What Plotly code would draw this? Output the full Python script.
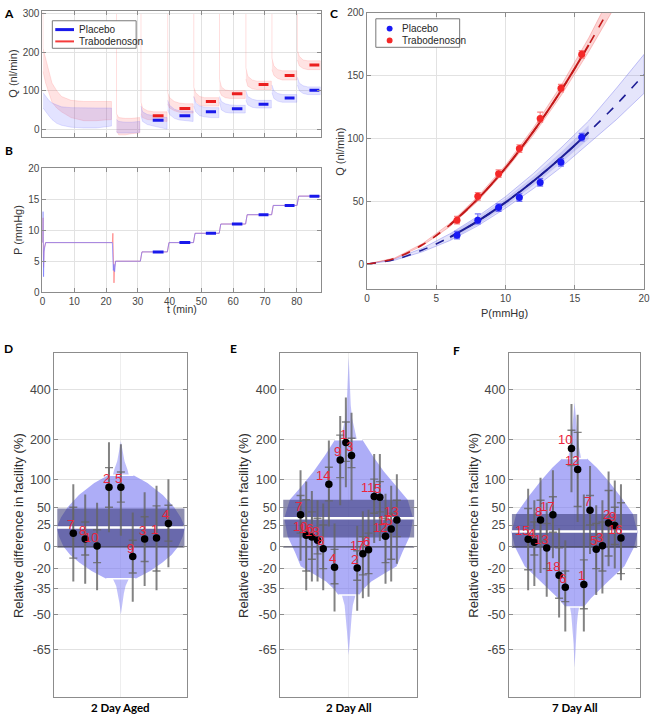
import math
import plotly.graph_objects as go

W, H = 657, 722
FONT = "Liberation Sans, Arial, sans-serif"
BOLD_FONT = "Lato, Liberation Sans, sans-serif"
TICK_COLOR = "rgb(70,70,70)"
AXIS_LINE = "rgb(140,140,140)"
GRID = "rgb(226,226,226)"

# ---------------- data: panels A, B, C ----------------
P_levels = [6.5, 8, 9.5, 11, 12.5, 14, 15.5]
Q_placebo = [23, 35, 45, 53, 65, 81, 101]
Q_trab = [35, 54, 72, 92, 116, 140, 167]
Q_placebo_eplus = [3, 5, 3, 3, 3, 3, 3]
Q_placebo_eminus = [3, 3, 3, 3, 3, 3, 3]
Q_trab_eplus = [3, 3, 3, 3, 5, 3, 3]
Q_trab_eminus = [3, 3, 3, 3, 3, 3, 3]
avg_t_start = [34.7, 43.1, 51.4, 59.6, 68.0, 76.2, 84.0]
avg_t_end = [38.1, 46.5, 54.6, 62.9, 71.1, 79.3, 87.1]

# A: envelopes of the raw flow traces, one list per pressure step
A_seg_t = [
    [0.2, 1, 2, 3, 4.5, 6, 9, 13, 17, 21.7],
    [23.3, 24, 26, 28, 30.6],
    [31.0, 31.5, 33, 35, 37, 39.2],
    [39.4, 40.0, 41.5, 43, 45, 47.4],
    [47.6, 48.2, 49.5, 51, 53, 55.5],
    [55.7, 56.3, 57.5, 59, 61, 63.8],
    [64.0, 64.6, 66, 67.5, 69.5, 72.0],
    [72.2, 72.8, 74, 75.5, 77.5, 80.0],
    [80.2, 80.8, 82, 83.5, 85.5, 87.5],
]
A_red_hi = [
    [210, 185, 150, 120, 100, 85, 75, 72, 72, 72],
    [40, 30, 28, 28, 30],
    [70, 55, 48, 45, 45, 45],
    [95, 82, 72, 68, 66, 66],
    [110, 95, 85, 82, 82, 82],
    [130, 110, 102, 100, 100, 100],
    [160, 138, 128, 125, 125, 125],
    [185, 165, 155, 152, 152, 152],
    [205, 190, 180, 178, 178, 178],
]
A_red_lo = [
    [150, 120, 95, 70, 55, 45, 30, 22, 22, 25],
    [-5, -15, -15, -12, -10],
    [40, 30, 25, 22, 22, 20],
    [65, 55, 48, 44, 42, 42],
    [85, 72, 62, 60, 60, 60],
    [100, 88, 82, 80, 80, 80],
    [130, 112, 105, 103, 103, 103],
    [155, 140, 132, 128, 128, 128],
    [180, 165, 158, 155, 155, 155],
]
A_blue_hi = [
    [95, 85, 75, 68, 62, 58, 56, 55, 55, 55],
    [25, 20, 18, 18, 20],
    [60, 45, 38, 35, 33, 30],
    [75, 62, 52, 48, 47, 47],
    [85, 68, 60, 57, 56, 56],
    [85, 72, 66, 63, 62, 62],
    [100, 85, 78, 75, 75, 75],
    [115, 100, 93, 90, 90, 90],
    [135, 120, 113, 110, 110, 110],
]
A_blue_lo = [
    [55, 45, 35, 25, 15, 10, 5, 3, 3, 8],
    [-8, -10, -10, -10, -8],
    [35, 20, 12, 8, 5, 0],
    [50, 38, 28, 24, 22, 20],
    [60, 45, 35, 32, 30, 30],
    [70, 50, 44, 42, 42, 42],
    [75, 63, 57, 55, 55, 55],
    [95, 80, 73, 70, 70, 70],
    [115, 100, 93, 90, 90, 90],
]
A_spike_t = [0.15, 23.3, 31.0, 39.4, 47.6, 55.7, 64.0, 72.2, 80.2]
A_spike_top = [305, 300, 300, 300, 300, 300, 300, 300, 300]

# B: pressure traces
B_t = [0, 0.08, 0.15, 0.25, 0.35, 0.5, 0.7, 1.0, 22.0, 22.15, 22.3, 22.5,
       22.7, 23.0, 30.8, 31.3, 39.3, 39.8, 47.5, 48.0, 55.6, 56.1, 63.9, 64.4,
       72.1, 72.6, 80.1, 80.6, 87.5]
B_P_placebo = [8, 10, 13, 9, 2.5, 6.5, 7.2, 8, 8, 5, 3.5, 4.5, 3.3, 5, 5,
               6.5, 6.5, 8, 8, 9.5, 9.5, 11, 11, 12.5, 12.5, 14, 14, 15.5, 15.5]
B_P_trab = [8, 11, 12, 7, 4, 7, 7.6, 8, 8, 9.5, 6, 1.5, 4, 5, 5,
            6.5, 6.5, 8, 8, 9.5, 9.5, 11, 11, 12.5, 12.5, 14, 14, 15.5, 15.5]

# C: fitted curves and confidence bands
C_fit_P = [0, 2, 4, 6, 8, 10, 12, 14, 16, 18, 20]
C_fit_placebo = [0, 3.6, 11.2, 21.5, 34.2, 49.1, 66, 84.7, 105, 127, 151]
C_fit_trab = [0, 4.6, 15.4, 31.3, 51.9, 76.6, 105.4, 138, 174.4, 214, 257]
C_band_placebo_lo = [0, 3.1, 9.8, 18.8, 30.5, 44.5, 60, 77, 96, 115, 136]
C_band_placebo_hi = [0, 4.1, 12.6, 24.2, 38, 53.7, 72, 92.5, 114, 140, 167]
C_band_trab_lo = [0, 4.3, 14.6, 30, 50, 74.5, 102.5, 134, 169, 207, 248]
C_band_trab_hi = [0, 4.9, 16.2, 32.6, 53.8, 78.7, 108.3, 142, 180, 221, 266]
C_inner_P = [6, 8, 10, 12, 14, 16]
C_inner_placebo_lo = [19, 31.5, 46, 62.5, 80.5, 99.5]
C_inner_placebo_hi = [24, 37, 52, 69.5, 89, 110.5]

# ---------------- data: panels D, E, F (relative difference, %) ----------------
D_labels = ['7', '8', '10', '2', '5', '9', '3', '1', '4']
D_val = [15, 8.4, 0.7, 84, 84, -9.5, 8.4, 9.5, 27]
D_hi = [90, 71, 57, 192, 186, 42, 75, 87, 100]
D_lo = [-30, -31.5, -36, 16, 12, -43, -33, -36, -19]
D_in_hi = [50, 29, 19, 125, 115, 7, 36, 52, 53]
D_in_lo = [-11, -8, -15, 50, 58, -23.5, -14, -22, 6]
D_mean = 22
D_ci = [0, 48]
D_body_lvl = [108, 100, 92, 84, 70, 50, 35, 25, 21, 11, 0, -8, -15, -22, -28]
D_body_hw = [0.19, 0.30, 0.40, 0.48, 0.63, 0.80, 0.90, 0.95, 0.96, 0.93, 0.86, 0.76, 0.62, 0.44, 0.22]
D_tail_hi_lvl = [195, 165, 140, 120, 108]
D_tail_hi_hw = [0.0, 0.025, 0.055, 0.10, 0.12]
D_tail_lo_lvl = [-28, -33, -38, -44, -50]
D_tail_lo_hw = [0.12, 0.07, 0.045, 0.02, 0.0]

E_labels = ['7', '10', '16', '18', '8', '14', '4', '9', '1', '3', '2', '17', '6', '11', '5', '12', '15', '13']
E_val = [39, 12.5, 10.5, 7, -2, 90, -19, 143, 191, 155, -19.5, -6.8, -3, 67.6, 66, 11.3, 20, 31.7]
E_hi = [119, 95, 77, 61, 56, 197, 27, 282, 362, 295, 24, 44, 46, 159, 159, 72, 87, 110]
E_lo = [-13.4, -36, -30, -30, -36, 23, -48.5, 53, 84, 61, -48, -41, -40, 4, 6, -31.5, -30, -16]
E_in_hi = [69, 62, 43, 34, 25, 126, -2.6, 214, 259, 204, -4, 11, 15, 100, 95, 34, 41, 61]
E_in_lo = [15, -22, -12, -7, -20, 60, -31.5, 103, 140, 125, -29, -25, -24, 41, 43, -15, -12, 11]
E_mean = 34
E_ci = [10, 62]
E_body_lvl = [199, 157, 117, 84, 62, 34, 11, -6, -18, -24, -30, -35, -39]
E_body_hw = [0.20, 0.34, 0.51, 0.70, 0.86, 0.94, 0.89, 0.78, 0.70, 0.52, 0.33, 0.22, 0.15]
E_tail_hi_lvl = [600, 440, 326, 272, 236, 199]
E_tail_hi_hw = [0.0, 0.012, 0.03, 0.05, 0.08, 0.12]
E_tail_lo_lvl = [-39, -45, -50, -58, -67]
E_tail_lo_hw = [0.10, 0.06, 0.045, 0.025, 0.0]

F_labels = ['15', '4', '8', '13', '17', '18', '6', '10', '12', '1', '7', '5', '3', '2', '9', '16']
F_val = [8, 4.8, 31.5, -1.3, 39, -25.3, -34, 174, 121, -32, 45.5, -2.6, 1, 27.5, 24.5, 9.5]
F_hi = [81, 61, 103, 57, 119, 21, 7, 332, 287, 71, 129, 53, 61, 116, 97, 90]
F_lo = [-36, -33, -23.5, -40, -11, -51.5, -58, 75, 29, -58, -7, -39, -38, -18, -20, -29]
F_in_hi = [48, 29, 61, 27, 67, -1, -22, 230, 223, -12.5, 69, 27, 29, 78, 50, 57]
F_in_lo = [-21, -8, 6, -20, 16, -41, -43, 130, 51, -47, 25, -20, -22, -9, 2.4, -24]
F_mean = 17
F_ci = [-1, 40]
F_body_lvl = [147, 125, 97, 66, 40, 16, 0, -18, -30, -41, -46]
F_body_hw = [0.19, 0.34, 0.51, 0.71, 0.89, 0.96, 0.91, 0.76, 0.51, 0.25, 0.14]
F_tail_hi_lvl = [340, 284, 225, 175, 147]
F_tail_hi_hw = [0.0, 0.015, 0.04, 0.07, 0.10]
F_tail_lo_lvl = [-46, -50, -55, -63, -71]
F_tail_lo_hw = [0.07, 0.05, 0.035, 0.015, 0.0]

DEF_tick_pct = [400, 200, 100, 50, 25, 0, -20, -35, -50, -65]
DEF_tick_text = ['400', '200', '100', '50', '25', '0', '-20', '-35', '-50', '-65']
DEF_group_names = ['2 Day Aged', '2 Day All', '7 Day All']

# ---------------- layout helpers ----------------
def xdom(x0, x1):
    return [x0 / W, x1 / W]


def ydom(top, bottom):
    return [1 - bottom / H, 1 - top / H]


def ax_style(**kw):
    d = dict(showline=True, linecolor=AXIS_LINE, linewidth=1, mirror='ticks',
             ticks='inside', ticklen=4, tickcolor=AXIS_LINE, showgrid=True,
             gridcolor=GRID, gridwidth=1, zeroline=False,
             tickfont=dict(family=FONT, size=10, color=TICK_COLOR))
    d.update(kw)
    return d


def ratio(r):
    return 1 + r / 100.0


fig = go.Figure()
ann = []

# ---------------- panel A ----------------
def band_polygon(tlist, hi, lo):
    xs, ys = [], []
    for t, h, l in zip(tlist, hi, lo):
        xs += list(t) + list(t)[::-1] + [None]
        ys += list(h) + list(l)[::-1] + [None]
    return xs, ys

sx, sy = [], []
for t, top, seg_hi in zip(A_spike_t, A_spike_top, A_red_hi):
    sx += [t, t, None]
    sy += [seg_hi[0], top, None]
fig.add_trace(go.Scatter(x=sx, y=sy, mode='lines', line=dict(color='rgba(255,140,140,0.28)', width=1),
                         hoverinfo='skip', showlegend=False, xaxis='x', yaxis='y'))

bx, by = band_polygon(A_seg_t, A_red_hi, A_red_lo)
fig.add_trace(go.Scatter(x=bx, y=by, mode='lines', fill='toself', fillcolor='rgba(255,80,80,0.16)',
                         line=dict(color='rgba(255,100,100,0.3)', width=0.6), hoverinfo='skip',
                         showlegend=False, xaxis='x', yaxis='y'))
bx, by = band_polygon(A_seg_t, A_blue_hi, A_blue_lo)
fig.add_trace(go.Scatter(x=bx, y=by, mode='lines', fill='toself', fillcolor='rgba(80,80,255,0.16)',
                         line=dict(color='rgba(100,100,255,0.3)', width=0.6), hoverinfo='skip',
                         showlegend=False, xaxis='x', yaxis='y'))

def mean_segments(values):
    xs, ys = [], []
    for a, b, v in zip(avg_t_start, avg_t_end, values):
        xs += [a, b, None]
        ys += [v, v, None]
    return xs, ys

mx, my = mean_segments(Q_trab)
fig.add_trace(go.Scatter(x=mx, y=my, mode='lines', line=dict(color='rgb(235,30,30)', width=3),
                         showlegend=False, xaxis='x', yaxis='y'))
mx, my = mean_segments(Q_placebo)
fig.add_trace(go.Scatter(x=mx, y=my, mode='lines', line=dict(color='rgb(25,25,235)', width=3),
                         showlegend=False, xaxis='x', yaxis='y'))

# ---------------- panel B ----------------
fig.add_trace(go.Scatter(x=B_t, y=B_P_trab, mode='lines', line=dict(color='rgba(255,120,120,0.7)', width=1),
                         showlegend=False, xaxis='x2', yaxis='y2'))
fig.add_trace(go.Scatter(x=B_t, y=B_P_placebo, mode='lines', line=dict(color='rgba(120,120,255,0.7)', width=1),
                         showlegend=False, xaxis='x2', yaxis='y2'))
mx, my = mean_segments(P_levels)
fig.add_trace(go.Scatter(x=mx, y=my, mode='lines', line=dict(color='rgb(25,25,235)', width=3),
                         showlegend=False, xaxis='x2', yaxis='y2'))

# ---------------- panel C ----------------
def fill_between(xv, lo, hi, color, edge, ax):
    fig.add_trace(go.Scatter(x=list(xv) + list(xv)[::-1], y=list(hi) + list(lo)[::-1], mode='lines',
                             fill='toself', fillcolor=color, line=dict(color=edge, width=0.8),
                             hoverinfo='skip', showlegend=False, xaxis='x' + ax, yaxis='y' + ax))

fill_between(C_fit_P, C_band_placebo_lo, C_band_placebo_hi, 'rgba(110,110,235,0.18)', 'rgba(110,110,235,0.5)', '3')
fill_between(C_inner_P, C_inner_placebo_lo, C_inner_placebo_hi, 'rgba(80,80,220,0.18)', 'rgba(80,80,220,0.0)', '3')
fill_between(C_fit_P, C_band_trab_lo, C_band_trab_hi, 'rgba(245,100,100,0.28)', 'rgba(245,100,100,0.45)', '3')

for fit, col in [(C_fit_placebo, 'rgb(30,30,150)'), (C_fit_trab, 'rgb(195,25,25)')]:
    fig.add_trace(go.Scatter(x=C_fit_P, y=fit, mode='lines', line=dict(color=col, width=1.6, dash='dash', shape='spline'),
                             showlegend=False, xaxis='x3', yaxis='y3'))
    sel = [i for i, p in enumerate(C_fit_P) if C_inner_P[0] <= p <= C_inner_P[-1]]
    fig.add_trace(go.Scatter(x=[C_fit_P[i] for i in sel], y=[fit[i] for i in sel], mode='lines',
                             line=dict(color=col, width=2, shape='spline'),
                             showlegend=False, xaxis='x3', yaxis='y3'))

fig.add_trace(go.Scatter(x=P_levels, y=Q_placebo, mode='markers', marker=dict(color='rgb(25,25,245)', size=7),
                         error_y=dict(type='data', symmetric=False, array=Q_placebo_eplus, arrayminus=Q_placebo_eminus,
                                      color='rgba(60,60,245,0.7)', thickness=1.2, width=3),
                         showlegend=False, xaxis='x3', yaxis='y3'))
fig.add_trace(go.Scatter(x=P_levels, y=Q_trab, mode='markers', marker=dict(color='rgb(245,40,40)', size=7),
                         error_y=dict(type='data', symmetric=False, array=Q_trab_eplus, arrayminus=Q_trab_eminus,
                                      color='rgba(245,80,80,0.7)', thickness=1.2, width=3),
                         showlegend=False, xaxis='x3', yaxis='y3'))

# ---------------- panels D, E, F ----------------
panels = [
    dict(ax='4', labels=D_labels, val=D_val, hi=D_hi, lo=D_lo, ihi=D_in_hi, ilo=D_in_lo, mean=D_mean, ci=D_ci,
         body=(D_body_lvl, D_body_hw), thi=(D_tail_hi_lvl, D_tail_hi_hw), tlo=(D_tail_lo_lvl, D_tail_lo_hw),
         span=5.6, box=(52, 187)),
    dict(ax='5', labels=E_labels, val=E_val, hi=E_hi, lo=E_lo, ihi=E_in_hi, ilo=E_in_lo, mean=E_mean, ci=E_ci,
         body=(E_body_lvl, E_body_hw), thi=(E_tail_hi_lvl, E_tail_hi_hw), tlo=(E_tail_lo_lvl, E_tail_lo_hw),
         span=12.1, box=(281, 420)),
    dict(ax='6', labels=F_labels, val=F_val, hi=F_hi, lo=F_lo, ihi=F_in_hi, ilo=F_in_lo, mean=F_mean, ci=F_ci,
         body=(F_body_lvl, F_body_hw), thi=(F_tail_hi_lvl, F_tail_hi_hw), tlo=(F_tail_lo_lvl, F_tail_lo_hw),
         span=10.6, box=(513, 646)),
]

DEF_TOP, DEF_BOTTOM = 353, 703
DEF_ymax = ratio(627)
DEF_ymin = ratio(-78.6)


def violin_polygon(lvls, hws, c, s):
    yv = [ratio(v) for v in lvls]
    rx = [c + w * s for w in hws]
    lx = [c - w * s for w in hws]
    return rx + lx[::-1], yv + yv[::-1]


for p in panels:
    ax = p['ax']
    n = len(p['val'])
    xs = list(range(1, n + 1))
    c = (n + 1) / 2
    s = p['span']
    xa, ya = 'x' + ax, 'y' + ax
    # violin tails (lighter) and body
    for (lv, hw), col in [(p['thi'], 'rgba(130,130,245,0.5)'), (p['tlo'], 'rgba(130,130,245,0.5)'),
                          (p['body'], 'rgba(118,118,242,0.6)')]:
        vx, vy = violin_polygon(lv, hw, c, s)
        fig.add_trace(go.Scatter(x=vx, y=vy, mode='lines', fill='toself', fillcolor=col,
                                 line=dict(width=0, color='rgba(0,0,0,0)'),
                                 hoverinfo='skip', showlegend=False, xaxis=xa, yaxis=ya))
    # confidence band of the mean
    bw = 0.955 * s
    fig.add_trace(go.Scatter(x=[c - bw, c + bw, c + bw, c - bw], y=[ratio(p['ci'][0])] * 2 + [ratio(p['ci'][1])] * 2,
                             mode='lines', fill='toself', fillcolor='rgba(50,50,112,0.55)',
                             line=dict(width=0, color='rgba(0,0,0,0)'),
                             hoverinfo='skip', showlegend=False, xaxis=xa, yaxis=ya))
    # zero reference line
    fig.add_trace(go.Scatter(x=[c - bw, c + bw], y=[ratio(0)] * 2, mode='lines',
                             line=dict(color='rgb(75,75,95)', width=1.3), hoverinfo='skip',
                             showlegend=False, xaxis=xa, yaxis=ya))
    # mean
    fig.add_trace(go.Scatter(x=[c - bw, c + bw], y=[ratio(p['mean'])] * 2, mode='lines',
                             line=dict(color='white', width=2.5), hoverinfo='skip',
                             showlegend=False, xaxis=xa, yaxis=ya))
    # white lines where the body of the violin ends
    blv, bhw = p['body']
    px_, py_ = [], []
    for lv, hw in [(blv[0], bhw[0]), (blv[-1], bhw[-1])]:
        px_ += [c - hw * s, c + hw * s, None]
        py_ += [ratio(lv), ratio(lv), None]
    fig.add_trace(go.Scatter(x=px_, y=py_, mode='lines', line=dict(color='white', width=1.5),
                             hoverinfo='skip', showlegend=False, xaxis=xa, yaxis=ya))
    yvals = [ratio(v) for v in p['val']]
    # outer error bars
    fig.add_trace(go.Scatter(x=xs, y=yvals, mode='markers', marker=dict(size=1, color='rgba(0,0,0,0)'),
                             error_y=dict(type='data', symmetric=False,
                                          array=[ratio(h) - y for h, y in zip(p['hi'], yvals)],
                                          arrayminus=[y - ratio(l) for l, y in zip(p['lo'], yvals)],
                                          color='rgba(100,100,100,0.8)', thickness=2, width=0),
                             hoverinfo='skip', showlegend=False, xaxis=xa, yaxis=ya))
    # inner ticks
    fig.add_trace(go.Scatter(x=xs, y=yvals, mode='markers', marker=dict(size=1, color='rgba(0,0,0,0)'),
                             error_y=dict(type='data', symmetric=False,
                                          array=[ratio(h) - y for h, y in zip(p['ihi'], yvals)],
                                          arrayminus=[y - ratio(l) for l, y in zip(p['ilo'], yvals)],
                                          color='rgba(100,100,100,0.8)', thickness=1.4, width=4),
                             hoverinfo='skip', showlegend=False, xaxis=xa, yaxis=ya))
    # dots
    fig.add_trace(go.Scatter(x=xs, y=yvals, mode='markers', marker=dict(size=7.5, color='black'),
                             showlegend=False, xaxis=xa, yaxis=ya))
    # labels
    for xi, yi, lab in zip(xs, yvals, p['labels']):
        ann.append(dict(x=xi, y=math.log10(yi), xref=xa, yref=ya, text=lab, showarrow=False,
                        xanchor='right', yanchor='bottom', xshift=2, yshift=0, borderpad=0,
                        font=dict(family=FONT, size=13, color='rgb(235,35,60)')))

# ---------------- axes ----------------
layout = dict(
    width=W, height=H, margin=dict(l=0, r=0, t=0, b=0),
    paper_bgcolor='white', plot_bgcolor='white', showlegend=False,
    font=dict(family=FONT, color=TICK_COLOR),
    xaxis=ax_style(domain=xdom(40, 322), range=[0, 87.5], tickvals=list(range(0, 90, 10)),
                   showticklabels=False, anchor='y'),
    yaxis=ax_style(domain=ydom(5, 133), range=[-20, 308], tickvals=[0, 100, 200, 300], anchor='x'),
    xaxis2=ax_style(domain=xdom(40, 322), range=[0, 87.5], tickvals=list(range(0, 90, 10)), anchor='y2'),
    yaxis2=ax_style(domain=ydom(165, 291), range=[0, 20], tickvals=[0, 5, 10, 15, 20], anchor='x2'),
    xaxis3=ax_style(domain=xdom(369, 650), range=[0, 20], tickvals=[0, 5, 10, 15, 20], anchor='y3',
                    ticklabeloverflow='allow'),
    yaxis3=ax_style(domain=ydom(7, 288), range=[-20, 200], tickvals=[0, 50, 100, 150, 200], anchor='x3'),
)
for p in panels:
    ax = p['ax']
    n = len(p['val'])
    c = (n + 1) / 2
    layout['xaxis' + ax] = ax_style(domain=xdom(*p['box']), range=[c - p['span'], c + p['span']],
                                    tickvals=[c], showticklabels=False, ticks='', anchor='y' + ax,
                                    gridcolor='rgb(238,238,238)')
    layout['yaxis' + ax] = ax_style(domain=ydom(DEF_TOP, DEF_BOTTOM), type='log',
                                    range=[math.log10(DEF_ymin), math.log10(DEF_ymax)],
                                    tickvals=[ratio(v) for v in DEF_tick_pct], ticktext=DEF_tick_text,
                                    anchor='x' + ax, tickfont=dict(family=FONT, size=12.5, color=TICK_COLOR))
fig.update_layout(**layout)

# ---------------- annotations / legends ----------------
def text(x, y, s, size=11, angle=0, bold=False, family=FONT, color='rgb(50,50,50)', xanchor='center'):
    ann.append(dict(x=x / W, y=1 - y / H, xref='paper', yref='paper', text=('<b>%s</b>' % s) if bold else s,
                    showarrow=False, textangle=angle, xanchor=xanchor, yanchor='middle',
                    font=dict(family=family, size=size, color=color)))

text(10, 69, 'Q (nl/min)', 11, -90)
text(15, 228, 'P (mmHg)', 11, -90)
text(181, 308, 't (min)', 10.5)
text(341, 148, 'Q (nl/min)', 11, -90)
text(508, 312, 'P(mmHg)', 11)
for cx in [15, 244, 477]:
    text(cx, 528, 'Relative difference in facility (%)', 13, -90, color='rgb(45,45,45)')
for (x0, x1), name in zip([(52, 187), (281, 420), (513, 646)], DEF_group_names):
    text((x0 + x1) / 2, 713, name, 11.5, bold=True, family=BOLD_FONT, color='black')
for s, x, y in [('A', 6, 8), ('B', 6, 147), ('C', 336, 8), ('D', 6, 348), ('E', 234, 348), ('F', 460, 350)]:
    text(x, y, s, 12, bold=True, family=BOLD_FONT, color='black')

# legend A
shapes = []
shapes.append(dict(type='rect', xref='paper', yref='paper', x0=50 / W, x1=135 / W, y0=1 - 43 / H, y1=1 - 15 / H,
                   line=dict(color='rgb(120,120,120)', width=1), fillcolor='white', layer='above'))
shapes.append(dict(type='line', xref='paper', yref='paper', x0=53 / W, x1=72 / W, y0=1 - 24 / H, y1=1 - 24 / H,
                   line=dict(color='rgb(25,25,235)', width=3), layer='above'))
shapes.append(dict(type='line', xref='paper', yref='paper', x0=53 / W, x1=72 / W, y0=1 - 36 / H, y1=1 - 36 / H,
                   line=dict(color='rgb(245,60,60)', width=2), layer='above'))
text(75, 24, 'Placebo', 10, xanchor='left', color='rgb(40,40,40)')
text(75, 36, 'Trabodenoson', 10, xanchor='left', color='rgb(40,40,40)')

# legend C
shapes.append(dict(type='rect', xref='paper', yref='paper', x0=378 / W, x1=463 / W, y0=1 - 42 / H, y1=1 - 13 / H,
                   line=dict(color='rgb(120,120,120)', width=1), fillcolor='white', layer='above'))
for yy, col in [(23, 'rgb(25,25,245)'), (35, 'rgb(245,40,40)')]:
    shapes.append(dict(type='circle', xref='paper', yref='paper', x0=389 / W, x1=395 / W,
                       y0=1 - (yy + 3) / H, y1=1 - (yy - 3) / H, fillcolor=col, line=dict(color=col, width=0),
                       layer='above'))
text(403, 23, 'Placebo', 10, xanchor='left', color='rgb(40,40,40)')
text(403, 35, 'Trabodenoson', 10, xanchor='left', color='rgb(40,40,40)')

fig.update_layout(annotations=ann, shapes=shapes)
fig.write_html("out.html", config={'displayModeBar': False},
               post_script="document.body.style.margin='0';document.body.style.overflow='hidden';")
